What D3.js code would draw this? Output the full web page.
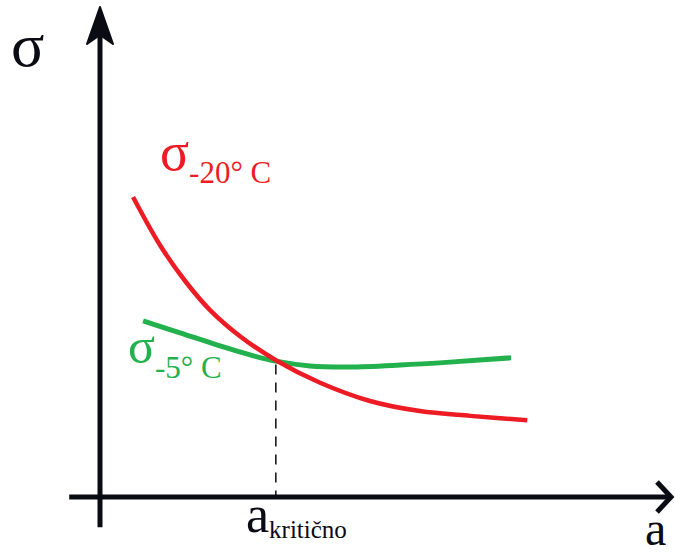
<!DOCTYPE html>
<html>
<head>
<meta charset="utf-8">
<script src="https://cdn.jsdelivr.net/npm/d3@7"></script>
<style>
  body { margin: 0; background: #fff; }
</style>
</head>
<body>
<div id="chart"></div>
<script>
// curve points (arbitrary units, axes origin at 0,0)
const redX = [0.59, 1.07, 1.52, 1.96, 2.50, 3.14, 3.93, 4.82, 5.71, 6.61, 7.63]
const redY = [6.25, 5.25, 4.50, 3.90, 3.35, 2.85, 2.38, 2.00, 1.79, 1.69, 1.60]

const greenX = [0.77, 1.43, 2.14, 2.68, 3.14, 3.75, 4.46, 5.36, 6.25, 7.34]
const greenY = [3.67, 3.42, 3.15, 2.96, 2.83, 2.73, 2.71, 2.75, 2.81, 2.90]

const aKriticno = 3.14
const aKriticnoY = 2.80

const width = 675, height = 559
const serif = '"Liberation Serif", "Times New Roman", Times, "DejaVu Serif", serif'

const svg = d3.select('#chart').append('svg')
  .attr('width', width)
  .attr('height', height)
  .attr('font-family', serif)

const x = d3.scaleLinear().domain([0, 10]).range([100, 660])
const y = d3.scaleLinear().domain([0, 10]).range([497, 17])

const ink = '#0b0b14'
const red = '#ed1c24'
const green = '#22b14c'

// axes
svg.append('line')
  .attr('x1', x(-0.55)).attr('x2', x(10.18))
  .attr('y1', y(0)).attr('y2', y(0))
  .attr('stroke', ink).attr('stroke-width', 5)

svg.append('line')
  .attr('x1', x(0)).attr('x2', x(0))
  .attr('y1', y(-0.63)).attr('y2', y(9.9))
  .attr('stroke', ink).attr('stroke-width', 5)

// y arrow head (filled)
svg.append('path')
  .attr('d', 'M' + x(0) + ',7 L' + (x(0) + 13) + ',44 L' + x(0) + ',35 L' + (x(0) - 13) + ',44 Z')
  .attr('fill', ink)
  .attr('stroke', ink).attr('stroke-width', 2).attr('stroke-linejoin', 'round')

// x arrow head (open chevron)
svg.append('path')
  .attr('d', 'M657,482 L671,' + y(0) + ' L657,512')
  .attr('fill', 'none')
  .attr('stroke', ink).attr('stroke-width', 5)

// dashed line down to a kriticno
svg.append('line')
  .attr('x1', x(aKriticno)).attr('x2', x(aKriticno))
  .attr('y1', y(aKriticnoY) + 2).attr('y2', y(0))
  .attr('stroke', ink).attr('stroke-width', 1.5)
  .attr('stroke-dasharray', '10,8')

const line = d3.line()
  .x(d => x(d[0]))
  .y(d => y(d[1]))
  .curve(d3.curveCatmullRom)

svg.append('path')
  .datum(d3.zip(greenX, greenY))
  .attr('d', line)
  .attr('fill', 'none')
  .attr('stroke', green).attr('stroke-width', 5)

svg.append('path')
  .datum(d3.zip(redX, redY))
  .attr('d', line)
  .attr('fill', 'none')
  .attr('stroke', red).attr('stroke-width', 4.5)

// labels
svg.append('text')
  .attr('x', 11).attr('y', 66)
  .attr('font-size', 62)
  .attr('fill', ink)
  .text('σ')

const redLabel = svg.append('text')
  .attr('x', 160).attr('y', 170)
  .attr('fill', red)
redLabel.append('tspan').attr('font-size', 54).text('σ')
redLabel.append('tspan').attr('font-size', 31).attr('dy', 13).text('-20° C')

const greenLabel = svg.append('text')
  .attr('x', 128).attr('y', 363)
  .attr('fill', green)
greenLabel.append('tspan').attr('font-size', 50).text('σ')
greenLabel.append('tspan').attr('font-size', 31).attr('dy', 15).text('-5° C')

const aLabel = svg.append('text')
  .attr('x', 246).attr('y', 532)
  .attr('fill', ink)
aLabel.append('tspan').attr('font-size', 52).text('a')
aLabel.append('tspan').attr('font-size', 25).attr('dy', 6).text('kritično')

svg.append('text')
  .attr('x', 645).attr('y', 545)
  .attr('font-size', 48)
  .attr('fill', ink)
  .text('a')
</script>
</body>
</html>
